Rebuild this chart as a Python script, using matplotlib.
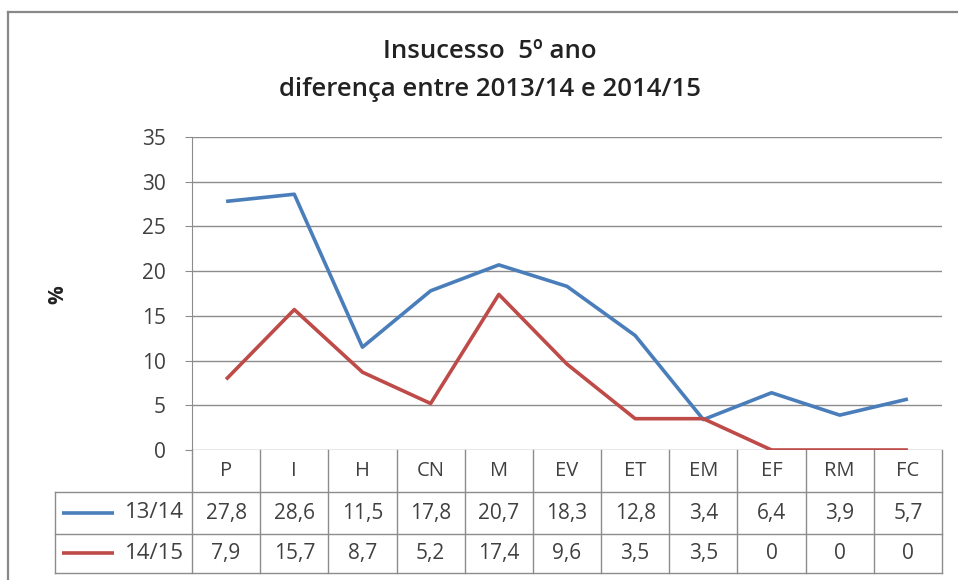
import matplotlib.pyplot as plt
import matplotlib.transforms as mtransforms
from matplotlib.lines import Line2D

categories = ['P', 'I', 'H', 'CN', 'M', 'EV', 'ET', 'EM', 'EF', 'RM', 'FC']
series_names = ['13/14', '14/15']
vals_1314 = [27.8, 28.6, 11.5, 17.8, 20.7, 18.3, 12.8, 3.4, 6.4, 3.9, 5.7]
vals_1415 = [7.9, 15.7, 8.7, 5.2, 17.4, 9.6, 3.5, 3.5, 0, 0, 0]
yticks = [0, 5, 10, 15, 20, 25, 30, 35]

colors = ['#4A7EBB', '#BE4B48']
grid_c = '#8C8C8C'
txt_c = '#404040'
plt.rcParams['font.family'] = ['Open Sans', 'DejaVu Sans']

W, H = 958, 580
fig = plt.figure(figsize=(W / 100, H / 100), dpi=100)

# plot area in pixels
px_l, px_r, px_t, px_b = 192, 942, 137, 450
ax = fig.add_axes([px_l / W, 1 - px_b / H, (px_r - px_l) / W, (px_b - px_t) / H])

x = list(range(len(categories)))
for vals, c, name in zip([vals_1314, vals_1415], colors, series_names):
    ax.plot(x, vals, color=c, lw=2.6, solid_capstyle='butt', label=name, zorder=3)

ax.set_xlim(-0.5, len(categories) - 0.5)
ax.set_ylim(0, 35)
ax.set_yticks(yticks)
ax.set_yticklabels([str(v) for v in yticks], fontsize=15, color=txt_c)
ax.set_xticks([])
ax.tick_params(axis='y', length=5, color=grid_c, pad=14)
for v in yticks[1:]:
    ax.axhline(v, color=grid_c, lw=1, zorder=1)
for s in ['top', 'right', 'bottom']:
    ax.spines[s].set_visible(False)
ax.spines['left'].set_color(grid_c)
ax.axhline(0, color=grid_c, lw=1, zorder=1)
ax.set_ylabel('%', fontsize=15, fontweight='bold', color='#222222')
ax.yaxis.set_label_coords((68 - px_l) / (px_r - px_l), 1 - (295 - px_t) / (px_b - px_t))

# data table below the plot (x in data coords, y in axes fraction)
tr = mtransforms.blended_transform_factory(ax.transData, ax.transAxes)
unit = len(categories) / (px_r - px_l)  # data units per pixel
rh = 42 / (px_b - px_t)
y_hdr_bot = -rh
y_r1_bot = -2 * rh
y_r2_bot = -3 * rh + 0.01
x_left = -0.5 - (px_l - 55) * unit
n = len(categories)
lkw = dict(color=grid_c, lw=1, transform=tr, clip_on=False)
ax.plot([x_left, n - 0.5], [y_hdr_bot, y_hdr_bot], **lkw)
ax.plot([x_left, n - 0.5], [y_r1_bot, y_r1_bot], **lkw)
ax.plot([x_left, n - 0.5], [y_r2_bot, y_r2_bot], **lkw)
ax.plot([x_left, x_left], [y_hdr_bot, y_r2_bot], **lkw)
for i in range(n + 1):
    ax.plot([i - 0.5, i - 0.5], [0, y_r2_bot], **lkw)

for i, cat in enumerate(categories):
    ax.text(i, y_hdr_bot / 2, cat, transform=tr, ha='center', va='center',
            fontsize=14.5, color=txt_c)
row_mid = [(y_hdr_bot + y_r1_bot) / 2, (y_r1_bot + y_r2_bot) / 2]
for vals, ym in zip([vals_1314, vals_1415], row_mid):
    for i, v in enumerate(vals):
        ax.text(i, ym, f'{v:g}'.replace('.', ','), transform=tr, ha='center',
                va='center', fontsize=15, color=txt_c)

# legend keys inside the table
for name, c, ym in zip(series_names, colors, row_mid):
    ax.plot([-0.5 - (px_l - 62) * unit, -0.5 - (px_l - 114) * unit], [ym, ym],
            color=c, lw=2.6, transform=tr, clip_on=False, solid_capstyle='butt')
    ax.text(-0.5 - 8 * unit, ym, name, transform=tr, ha='right', va='center',
            fontsize=16, color=txt_c)

fig.text(490 / W, 1 - 51 / H, 'Insucesso  5º ano', ha='center', va='center',
         fontsize=18.5, fontweight='semibold', color='#222222')
fig.text(490 / W, 1 - 90 / H, 'diferença entre 2013/14 e 2014/15', ha='center',
         va='center', fontsize=18.5, fontweight='semibold', color='#222222')

# outer chart frame (only top and left visible in the crop)
fig.add_artist(Line2D([8 / W, 8 / W], [0, 1 - 12 / H], color='#888888', lw=1.6,
                      transform=fig.transFigure))
fig.add_artist(Line2D([8 / W, 1], [1 - 12 / H, 1 - 12 / H], color='#888888', lw=1.6,
                      transform=fig.transFigure))

fig.savefig('out.png', dpi=100)
